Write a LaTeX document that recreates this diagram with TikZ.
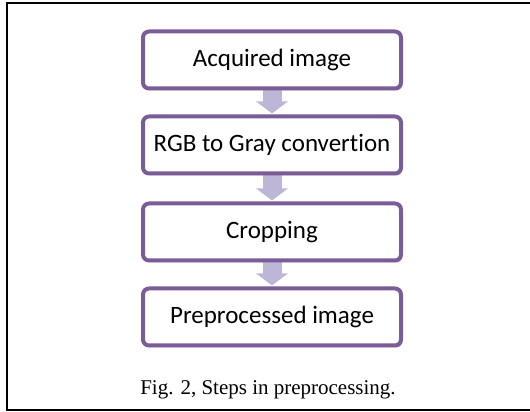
\documentclass[tikz,border=0pt]{standalone}
\usepackage{fontspec}
\setmainfont{Liberation Serif}
\newfontfamily\boxfont[Ligatures={NoCommon}]{Carlito}
\usetikzlibrary{arrows.meta,shadows}
\definecolor{boxline}{HTML}{7A5C99}
\definecolor{arrowfill}{HTML}{BEB6D6}
\pgfdeclarelayer{bg}
\pgfsetlayers{bg,main}
\tikzset{
  stepbox/.style={draw=boxline, line width=4pt, rounded corners=6pt, fill=white,
    minimum width=258pt, minimum height=57pt, inner sep=0pt,
    font=\boxfont\fontsize{25}{30}\selectfont,
    drop shadow={shadow xshift=1.5pt, shadow yshift=-2pt, fill=black!35, opacity=0.6}},
  flowarrow/.style={arrowfill, line width=19pt, -{Triangle[width=31pt,length=12pt]}, shorten >=1pt}
}
\begin{document}
\begin{tikzpicture}[x=1pt,y=1pt]
\useasboundingbox (0,0) rectangle (530,412);
\draw[line width=2pt, line cap=rect] (7,1.5) -- (7,409) -- (530,409);
\draw[line width=2pt] (7,1.5) -- (530,1.5);
\node[stepbox] (a) at (272,352) {Acquired image};
\node[stepbox] (b) at (272,267) {RGB to Gray convertion};
\node[stepbox] (c) at (272,180) {Cropping};
\node[stepbox] (d) at (272,95) {Preprocessed image};
\begin{pgfonlayer}{bg}
\draw[flowarrow] (a.south) -- (b.north);
\draw[flowarrow] (b.south) -- (c.north);
\draw[flowarrow] (c.south) -- (d.north);
\end{pgfonlayer}
\node[font=\fontsize{21}{25}\selectfont] (cap) at (268,22) {Fig. 2, Steps in preprocessing.};
\end{tikzpicture}
\end{document}
